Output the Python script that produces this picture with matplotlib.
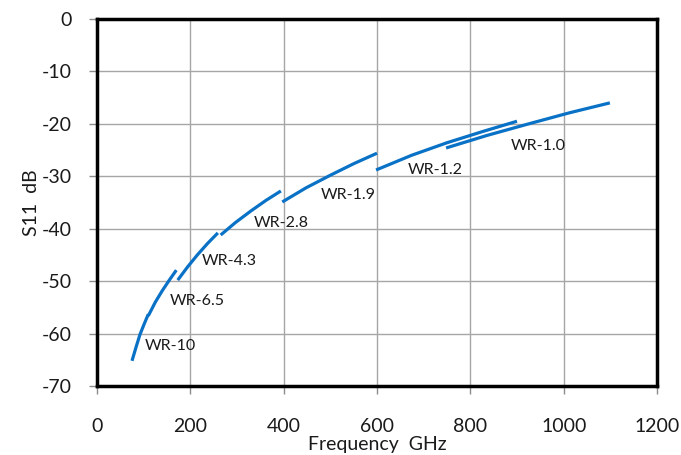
import matplotlib
matplotlib.use('Agg')
from matplotlib import pyplot as plt

plt.rcParams['font.family'] = ['Lato', 'DejaVu Sans']
plt.rcParams['axes.unicode_minus'] = False

# waveguide bands: frequency (GHz) and S11 (dB)
bands = ['WR-10', 'WR-6.5', 'WR-4.3', 'WR-2.8', 'WR-1.9', 'WR-1.2', 'WR-1.0']
freqs = [
    [75, 84, 92, 101, 110],
    [110, 125, 140, 155, 170],
    [173, 194, 215, 237, 259],
    [265, 297, 330, 362, 394],
    [397, 448, 500, 550, 600],
    [598, 674, 750, 825, 900],
    [748, 836, 925, 1012, 1099],
]
s11 = [
    [-65.2, -62.5, -60.2, -58.2, -56.3],
    [-56.6, -54.0, -51.8, -49.8, -47.9],
    [-49.8, -47.3, -45.0, -42.8, -40.8],
    [-41.2, -38.8, -36.6, -34.6, -32.8],
    [-34.9, -32.2, -29.8, -27.6, -25.6],
    [-28.8, -26.0, -23.6, -21.5, -19.5],
    [-24.6, -22.2, -20.0, -17.9, -16.0],
]
label_x = [158, 214, 283, 394, 538, 724, 945]
label_y = [-62.4, -53.8, -46.2, -38.9, -33.6, -28.8, -24.2]

fig = plt.figure(figsize=(6.81, 4.55), dpi=100)
ax = fig.add_axes([97 / 681, 69 / 455, 560 / 681, 367 / 455])

for f, s in zip(freqs, s11):
    ax.plot(f, s, color='#0A72C6', linewidth=2.3, solid_capstyle='butt')

for name, x, y in zip(bands, label_x, label_y):
    ax.text(x, y, name, fontsize=11.5, ha='center', va='center', color='#1a1a1a')

ax.set_xlim(0, 1200)
ax.set_ylim(-70, 0)
ax.set_xticks(range(0, 1201, 200))
ax.set_yticks(range(-70, 1, 10))
ax.grid(True, color='#a6a6a6', linewidth=1.0)
ax.set_axisbelow(True)

for sp in ax.spines.values():
    sp.set_color('black')
    sp.set_linewidth(2.5)

ax.tick_params(direction='out', length=6, width=1, color='#8c8c8c',
               labelsize=14, labelcolor='#1a1a1a')
ax.tick_params(axis='y', pad=12)
ax.tick_params(axis='x', pad=17)

ax.set_xlabel('Frequency  GHz', fontsize=14, color='#1a1a1a', labelpad=1)
ax.set_ylabel('S11  dB', fontsize=14, color='#1a1a1a', labelpad=1)

fig.savefig('out.png', dpi=100)
